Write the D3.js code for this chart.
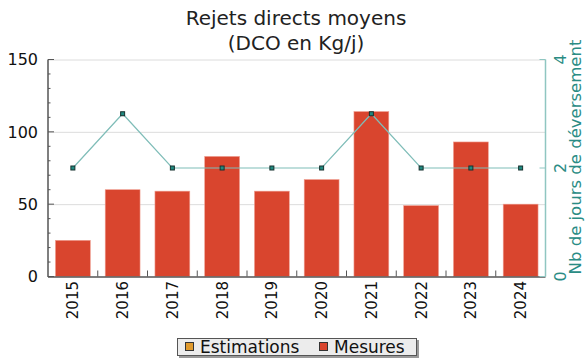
<!DOCTYPE html>
<html>
<head>
<meta charset="utf-8">
<script src="https://cdn.jsdelivr.net/npm/d3@7"></script>
<style>
  body { margin: 0; background: #fff; }
  svg { display: block; font-family: "DejaVu Sans", sans-serif; }
</style>
</head>
<body>
<svg id="chart" width="585" height="363"></svg>
<script>
const years = ["2015","2016","2017","2018","2019","2020","2021","2022","2023","2024"];
const mesures = [25, 60, 59, 83, 59, 67, 114, 49, 93, 50];
const joursDeversement = [2, 3, 2, 2, 2, 2, 3, 2, 2, 2];
const leftTicks = [0, 50, 100, 150];
const rightTicks = [0, 2, 4];
const legendItems = ["Estimations", "Mesures"];
const legendColors = ["#e09a2c", "#d9452e"];

const svg = d3.select("#chart");
const m = { left: 48, right: 545.5, top: 59.5, bottom: 276.5 };

const x = d3.scaleBand().domain(years).range([m.left, m.right]).paddingInner(0.3).paddingOuter(0.15);
const y = d3.scaleLinear().domain([0, 150]).range([m.bottom, m.top]);
const y2 = d3.scaleLinear().domain([0, 4]).range([m.bottom, m.top]);

// Title
const title = svg.append("text").attr("text-anchor", "middle")
  .attr("font-size", 20).attr("fill", "#222");
title.append("tspan").attr("x", 296).attr("y", 25).text("Rejets directs moyens");
title.append("tspan").attr("x", 296).attr("y", 50).text("(DCO en Kg/j)");

// Grid
svg.append("g").selectAll("line").data(leftTicks.slice(1)).join("line")
  .attr("x1", m.left).attr("x2", m.right)
  .attr("y1", d => y(d) + 0.5).attr("y2", d => y(d) + 0.5)
  .attr("stroke", "#dcdcdc").attr("stroke-width", 1);

// Bars
svg.append("g").selectAll("rect").data(years).join("rect")
  .attr("x", d => x(d)).attr("width", x.bandwidth())
  .attr("y", (d, i) => y(mesures[i]))
  .attr("height", (d, i) => y(0) - y(mesures[i]))
  .attr("fill", "#d9452e").attr("stroke", "#ef9d90").attr("stroke-width", 0.6);

// Left axis with major + minor inner ticks
const leftAxis = svg.append("g");
leftAxis.append("line").attr("x1", m.left).attr("x2", m.left).attr("y1", m.top).attr("y2", m.bottom + 0.5)
  .attr("stroke", "#555").attr("stroke-width", 1.5);
leftAxis.selectAll(".minor").data(d3.range(0, 151, 10)).join("line")
  .attr("x1", m.left).attr("x2", d => m.left + (d % 50 === 0 ? 6 : 2.5))
  .attr("y1", d => y(d)).attr("y2", d => y(d))
  .attr("stroke", "#555").attr("stroke-width", 1);
leftAxis.selectAll("text").data(leftTicks).join("text")
  .attr("x", 38).attr("y", d => y(d)).attr("dy", "0.36em")
  .attr("text-anchor", "end").attr("font-size", 16).attr("fill", "#111").text(d => d);

// Bottom axis: ticks at band boundaries, labels rotated
const bottom = svg.append("g");
bottom.append("line").attr("x1", m.left).attr("x2", m.right).attr("y1", m.bottom + 0.5).attr("y2", m.bottom + 0.5)
  .attr("stroke", "#555").attr("stroke-width", 1.5);
bottom.selectAll(".tk").data(years.slice(1)).join("line")
  .attr("x1", d => x(d) - x.step() * x.paddingInner() / 2).attr("x2", d => x(d) - x.step() * x.paddingInner() / 2)
  .attr("y1", m.bottom).attr("y2", m.bottom - 6)
  .attr("stroke", "#555").attr("stroke-width", 1);
bottom.selectAll("text").data(years).join("text")
  .attr("transform", d => `translate(${x(d) + x.bandwidth() / 2},281) rotate(-90)`)
  .attr("dy", "0.36em").attr("text-anchor", "end")
  .attr("font-size", 15).attr("fill", "#111").text(d => d);

// Right axis
const teal = "#2a8c84";
const right = svg.append("g");
right.append("line").attr("x1", m.right).attr("x2", m.right).attr("y1", m.top).attr("y2", m.bottom)
  .attr("stroke", "#8fc6c1").attr("stroke-width", 1.5);
right.selectAll("line.tk").data(rightTicks).join("line").attr("class", "tk")
  .attr("x1", m.right).attr("x2", m.right - 6)
  .attr("y1", d => y2(d)).attr("y2", d => y2(d))
  .attr("stroke", "#8fc6c1").attr("stroke-width", 1);
right.selectAll("text").data(rightTicks).join("text")
  .attr("transform", d => `translate(560,${y2(d)}) rotate(-90)`)
  .attr("dy", "0.36em").attr("text-anchor", "middle")
  .attr("font-size", 16).attr("fill", teal).text(d => d);
svg.append("text")
  .attr("transform", `translate(575,157) rotate(-90)`)
  .attr("dy", "0.36em").attr("text-anchor", "middle")
  .attr("font-size", 16.5).attr("fill", teal).text("Nb de jours de déversement");

// Line series
const cx = d => x(d) + x.bandwidth() / 2;
svg.append("path")
  .datum(years)
  .attr("d", d3.line().x(cx).y((d, i) => y2(joursDeversement[i])))
  .attr("fill", "none").attr("stroke", "#7fbdb8").attr("stroke-width", 1.2);
svg.append("g").selectAll("rect").data(years).join("rect")
  .attr("x", d => cx(d) - 2).attr("y", (d, i) => y2(joursDeversement[i]) - 2)
  .attr("width", 4).attr("height", 4)
  .attr("fill", "#1f8a80").attr("stroke", "#17302e").attr("stroke-width", 1);

// Legend
const lg = svg.append("g");
lg.append("rect").attr("x", 179).attr("y", 340).attr("width", 240).attr("height", 18).attr("fill", "#999");
lg.append("rect").attr("x", 177.5).attr("y", 338.5).attr("width", 239).attr("height", 17)
  .attr("fill", "#ececec").attr("stroke", "#555").attr("stroke-width", 1);
const itemX = [185, 319];
legendItems.forEach((name, i) => {
  lg.append("rect").attr("x", itemX[i] + 0.5).attr("y", 342.5).attr("width", 8).attr("height", 8)
    .attr("fill", legendColors[i]).attr("stroke", "#333").attr("stroke-width", 1);
  lg.append("text").attr("x", itemX[i] + 15).attr("y", 347).attr("dy", "0.36em")
    .attr("font-size", 17).attr("fill", "#111").text(name);
});
</script>
</body>
</html>
